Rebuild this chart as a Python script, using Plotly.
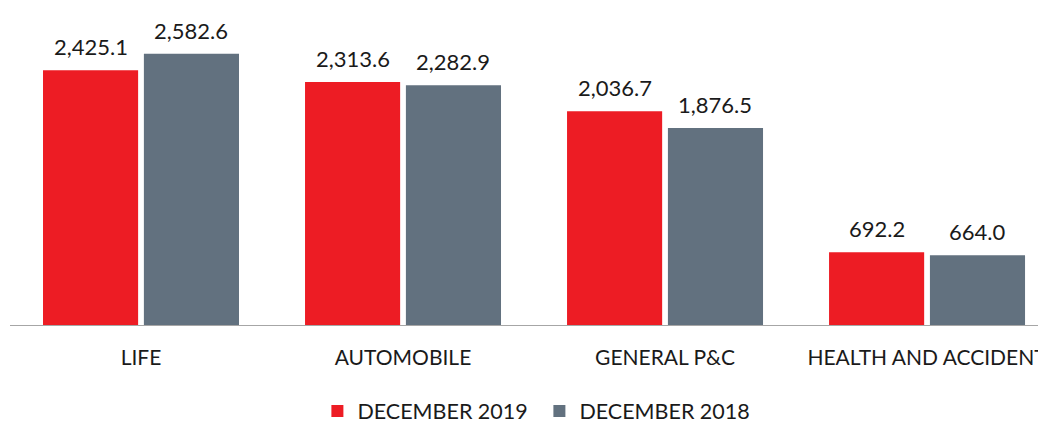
import plotly.graph_objects as go

categories = ['LIFE', 'AUTOMOBILE', 'GENERAL P&C', 'HEALTH AND ACCIDENT']
dec_2019 = [2425.1, 2313.6, 2036.7, 692.2]
dec_2018 = [2582.6, 2282.9, 1876.5, 664.0]

colors = ['#ED1C24', '#62717F']
font_family = 'Lato, "Open Sans", sans-serif'

# bar geometry in category units (width, offset from category centre)
bar_w = 0.363
offsets = [-0.374, 0.011]

fig = go.Figure()
for name, values, color, off in zip(['DECEMBER 2019', 'DECEMBER 2018'], [dec_2019, dec_2018], colors, offsets):
    fig.add_trace(go.Bar(x=list(range(len(categories))), y=values, name=name,
                         width=bar_w, offset=off,
                         marker=dict(color=color, line=dict(width=0))))
    for i, v in enumerate(values):
        fig.add_annotation(x=i + off + bar_w / 2, y=v, text=f'{v:,.1f}', showarrow=False,
                           yanchor='bottom', yshift=8, font=dict(size=22, color='#1a1a1a'))

# page body has an 8px margin, so the figure is drawn 8px smaller
fig.update_layout(width=1038, height=415,
                  margin=dict(l=2, r=0, t=0, b=98, autoexpand=False),
                  plot_bgcolor='white', paper_bgcolor='white',
                  font=dict(family=font_family, color='#1a1a1a'),
                  barmode='overlay',
                  showlegend=True,
                  legend=dict(orientation='h', x=0.511, xanchor='center', y=-0.271, yanchor='middle',
                              font=dict(size=21.5), itemwidth=30, traceorder='normal',
                              entrywidth=177, entrywidthmode='pixels'))
fig.update_xaxes(range=[-0.5, 3.454], showline=True, linecolor='#a6a6a6', linewidth=1, automargin=False,
                 tickmode='array', tickvals=list(range(len(categories))), ticktext=categories,
                 ticks='', tickfont=dict(size=21), ticklabelstandoff=14, ticklabeloverflow='allow',
                 showgrid=False, zeroline=False)
fig.update_yaxes(range=[0, 3019], visible=False, automargin=False)
fig.write_html('out.html')
